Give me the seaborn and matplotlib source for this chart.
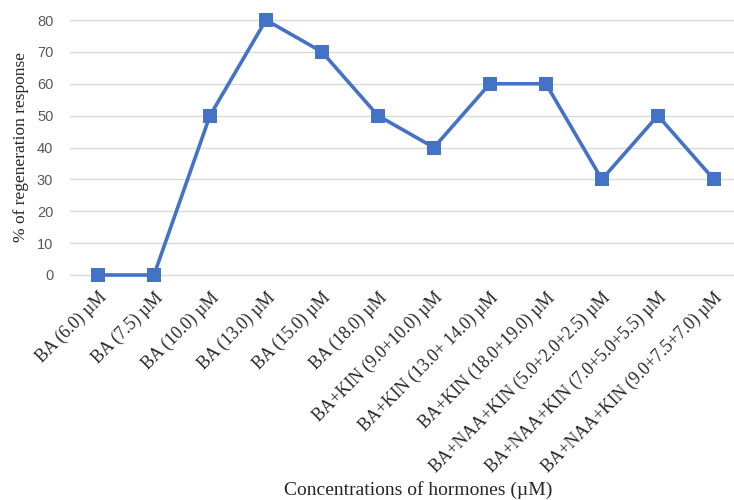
import matplotlib
matplotlib.use("Agg")
import matplotlib.pyplot as plt
import seaborn as sns
import pandas as pd

categories = [
    "BA (6.0) µM", "BA (7.5) µM", "BA (10.0) µM", "BA (13.0) µM",
    "BA (15.0) µM", "BA (18.0) µM", "BA+KIN (9.0+10.0) µM",
    "BA+KIN (13.0+ 14.0) µM", "BA+KIN (18.0+19.0) µM",
    "BA+NAA+KIN (5.0+2.0+2.5) µM", "BA+NAA+KIN (7.0+5.0+5.5) µM",
    "BA+NAA+KIN (9.0+7.5+7.0) µM",
]
values = [0, 0, 50, 80, 70, 50, 40, 60, 60, 30, 50, 30]
yticks = [0, 10, 20, 30, 40, 50, 60, 70, 80]

sns.set_style("white")
plt.rcParams['font.family'] = ['Liberation Serif', 'DejaVu Serif']

df = pd.DataFrame({"cat": categories, "val": values})

fig = plt.figure(figsize=(7.34, 5.0), dpi=100)
ax = fig.add_axes([70/734, 225/500, 664/734, 255/500])

sns.lineplot(data=df, x="cat", y="val", ax=ax, sort=False, color="#4472C4",
             linewidth=2.6, marker="s", markersize=10, markeredgewidth=0,
             clip_on=False, zorder=3)

ax.set_xlim(-0.5, 11.36)
ax.set_ylim(0, 80)
ax.set_yticks(yticks)
ax.grid(axis="y", color="#D9D9D9", linewidth=1.0)
ax.grid(axis="x", visible=False)
for gl in ax.get_ygridlines():
    gl.set_clip_on(False)
for s in ax.spines.values():
    s.set_visible(False)

ax.tick_params(axis="y", length=0, pad=12, labelcolor="#595959", labelsize=10.5)
for lab in ax.get_yticklabels():
    lab.set_family(["Liberation Sans", "DejaVu Sans"])
ax.tick_params(axis="x", length=0, pad=10, labelsize=12.8)
ax.set_xticks(range(len(categories)))
ax.set_xticklabels(categories, rotation=45, ha="right", rotation_mode="anchor")

ax.set_xlabel("")
ax.set_ylabel("% of regeneration response", fontsize=12.5)
ax.yaxis.set_label_coords(-41/664, 0.5)
fig.text(418/734, 10/500, "Concentrations of hormones (µM)", ha="center",
         va="center", fontsize=14)

fig.savefig("out.png", dpi=100)
